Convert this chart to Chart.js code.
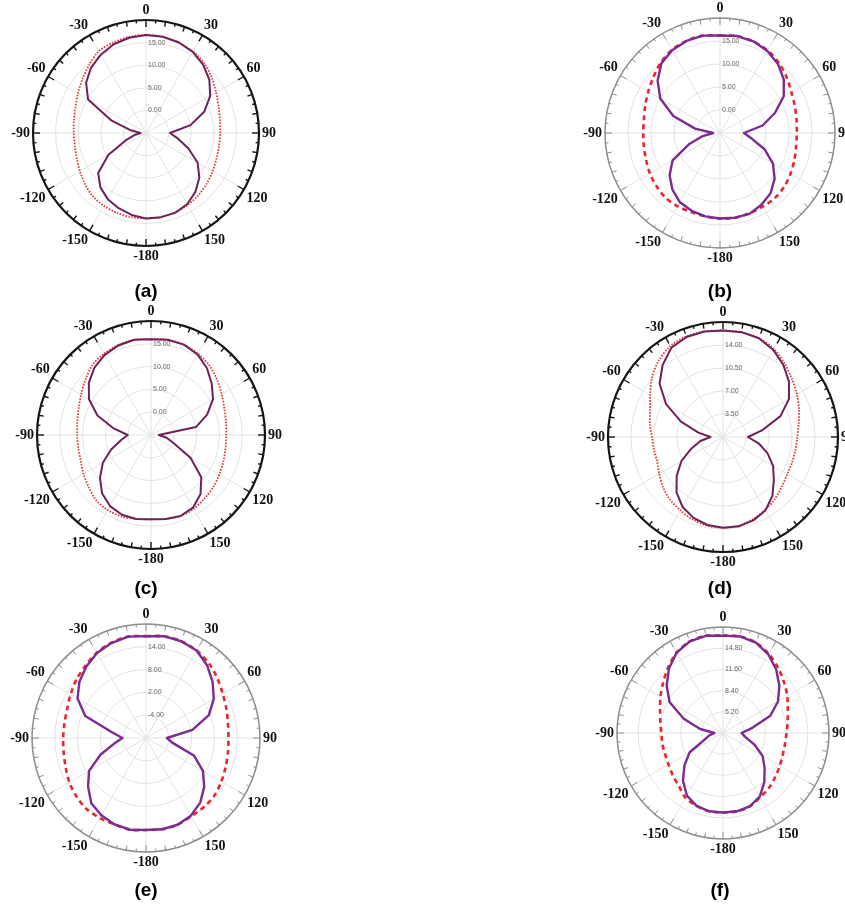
<!DOCTYPE html>
<html>
<head>
<meta charset="utf-8">
<script src="https://cdn.jsdelivr.net/npm/chart.js@4.4.1/dist/chart.umd.min.js"></script>
<style>
  html, body { margin: 0; padding: 0; background: #fff; }
  body { position: relative; width: 845px; height: 908px; overflow: hidden; }
  canvas { position: absolute; }
  .cap {
    position: absolute;
    font: bold 19px "Liberation Sans", Arial, sans-serif;
    color: #000;
    transform: translateX(-50%);
    white-space: nowrap;
  }
</style>
</head>
<body>
<script>
// Angle categories, clockwise from the top, 10 degree steps
const angleLabels = [0, 10, 20, 30, 40, 50, 60, 70, 80, 90, 100, 110, 120, 130, 140, 150, 160, 170,
  -180, -170, -160, -150, -140, -130, -120, -110, -100, -90, -80, -70, -60, -50, -40, -30, -20, -10];

// Gain patterns (dB), one value per angle above
const gainA_solid = [16.7, 16.6, 16.3, 15.7, 14.7, 13.3, 11.4, 8.7, 5.0, 0.3, 2.2, 5.0, 8.2, 10.4, 12.0, 13.2, 13.8, 13.9,
  13.9, 13.4, 12.7, 11.9, 10.7, 8.8, 4.6, -0.2, -2.4, -3.8, -1.6, 3.2, 9.8, 12.3, 13.9, 15.0, 15.9, 16.4];
const gainA_dotted = [16.7, 16.6, 16.3, 15.8, 15.1, 14.0, 12.9, 12.1, 11.6, 11.4, 11.4, 11.6, 12.0, 12.5, 13.0, 13.4, 13.7, 13.9,
  13.9, 13.9, 13.8, 13.6, 13.3, 12.6, 11.9, 11.3, 11.0, 11.0, 11.2, 11.6, 12.4, 13.4, 14.6, 15.9, 16.3, 16.6];

const gainB_solid = [16.2, 16.4, 16.2, 15.6, 14.6, 13.1, 11.0, 7.7, 4.4, 0.2, 2.0, 5.3, 8.3, 10.5, 12.1, 13.0, 13.7, 13.7,
  13.6, 13.4, 13.0, 12.4, 11.1, 9.3, 6.9, 2.2, -1.2, -3.5, 0.5, 5.8, 10.0, 12.7, 14.8, 15.8, 16.3, 16.5];
const gainB_dashed = [16.2, 16.4, 16.2, 15.7, 14.9, 13.9, 12.9, 12.3, 11.9, 11.7, 11.8, 12.2, 12.7, 13.2, 13.5, 13.5, 13.6, 13.7,
  13.6, 13.4, 13.3, 13.4, 13.4, 13.0, 12.6, 12.1, 11.8, 11.7, 11.8, 12.3, 13.0, 13.9, 15.0, 15.9, 16.3, 16.5];

const gainC_solid = [16.0, 16.2, 16.1, 15.4, 14.1, 12.4, 10.7, 8.1, 5.0, -3.3, -1.5, 0.3, 5.0, 9.4, 11.9, 13.4, 13.9, 13.7,
  13.5, 13.7, 13.6, 13.0, 11.7, 9.6, 7.2, 4.3, 1.7, 0.1, 3.3, 7.5, 10.7, 12.8, 14.3, 15.3, 15.9, 16.2];
const gainC_dotted = [16.0, 16.2, 16.1, 15.6, 14.9, 13.9, 12.9, 12.1, 11.7, 11.5, 11.6, 11.9, 12.3, 12.8, 13.2, 13.7, 13.9, 13.7,
  13.5, 13.7, 14.0, 14.0, 13.7, 12.8, 12.1, 11.4, 11.2, 11.2, 11.4, 11.9, 12.7, 13.8, 15.0, 15.6, 16.0, 16.2];

const gainD_solid = [16.2, 16.2, 16.0, 15.3, 14.3, 13.1, 11.6, 9.3, 6.1, 3.8, 5.5, 7.2, 8.8, 10.1, 11.7, 12.9, 13.5, 13.8,
  13.8, 13.6, 13.1, 12.3, 11.0, 9.2, 7.3, 5.1, 3.5, 1.9, 3.8, 6.8, 10.0, 12.6, 14.3, 15.7, 16.2, 16.3];
const gainD_dotted = [16.2, 16.2, 16.0, 15.5, 14.6, 13.7, 13.0, 12.3, 11.7, 11.3, 11.2, 11.2, 11.3, 11.7, 12.3, 12.8, 13.3, 13.7,
  13.8, 13.7, 13.4, 12.9, 12.5, 11.9, 11.2, 10.7, 10.7, 10.8, 11.3, 11.8, 12.8, 14.1, 15.2, 16.0, 16.3, 16.3];

const gainE_solid = [16.8, 17.2, 17.1, 16.6, 15.0, 12.9, 10.6, 7.6, 2.4, -4.5, -3.0, 3.4, 7.3, 10.0, 12.2, 13.6, 14.3, 14.4,
  14.2, 14.5, 14.2, 13.5, 12.4, 9.9, 7.3, 2.7, -1.5, -3.8, -0.8, 7.0, 10.8, 12.9, 14.5, 15.8, 16.6, 17.1];
const gainE_dashed = [16.8, 17.2, 17.1, 16.6, 15.7, 14.5, 13.3, 12.5, 11.9, 11.7, 11.9, 12.3, 12.9, 13.5, 13.7, 13.8, 14.3, 14.4,
  14.2, 14.5, 14.2, 14.3, 14.4, 13.9, 13.3, 12.5, 12.0, 11.8, 11.8, 12.1, 12.9, 13.9, 14.8, 15.9, 16.7, 17.1];

const gainF_solid = [16.7, 16.8, 16.5, 15.7, 14.5, 13.1, 11.6, 9.6, 6.5, 4.8, 5.4, 7.0, 8.9, 10.2, 11.7, 13.1, 13.8, 14.0,
  14.0, 14.0, 13.7, 12.9, 11.4, 9.6, 7.8, 5.0, 4.1, 3.3, 5.5, 8.3, 11.3, 13.1, 14.7, 16.0, 16.7, 16.9];
const gainF_dashed = [16.7, 16.8, 16.5, 15.8, 14.9, 14.0, 13.2, 12.4, 11.9, 11.6, 11.5, 11.6, 11.9, 12.3, 12.8, 13.2, 13.8, 14.0,
  14.0, 14.0, 13.7, 13.3, 12.4, 11.9, 11.5, 11.3, 11.3, 11.3, 11.6, 12.1, 12.9, 13.8, 14.9, 16.0, 16.7, 16.9];

// Radial axis range and ring step of each panel
const panelNames = ['(a)', '(b)', '(c)', '(d)', '(e)', '(f)'];
const scaleMin = [-5, -5, -5, 0, -10, 2];
const scaleMax = [20, 20, 20, 17.5, 20, 18];
const scaleStep = [5, 5, 5, 3.5, 6, 3.2];

const solidSeries = [gainA_solid, gainB_solid, gainC_solid, gainD_solid, gainE_solid, gainF_solid];
const brokenSeries = [gainA_dotted, gainB_dashed, gainC_dotted, gainD_dotted, gainE_dashed, gainF_dashed];

// Page placement of each polar plot
const panelX = [146, 720, 151, 723, 146, 723];
const panelY = [133, 133, 435, 437, 738, 733];
const panelR = [113, 115, 114, 115, 114, 106];
const captionY = [280, 280, 577, 577, 879, 879];
const captionX = [146, 720, 146, 720, 146, 720];
// heavy black frame (true) or light grey frame (false)
const heavyFrame = [true, false, true, true, false, false];

const CANVAS = 300;

// Outer frame with tick marks, angle labels and ring values
const polarFrame = {
  id: 'polarFrame',
  afterDraw(chart, args, opts) {
    const s = chart.scales.r;
    const ctx = chart.ctx;
    const n = chart.data.labels.length;
    const R = s.drawingArea;
    ctx.save();

    ctx.strokeStyle = opts.color;
    ctx.lineWidth = opts.width;
    ctx.beginPath();
    ctx.arc(s.xCenter, s.yCenter, R, 0, Math.PI * 2);
    ctx.stroke();

    ctx.lineWidth = opts.tickWidth;
    for (let k = 0; k < n * 2; k++) {
      const len = (k % 6 === 0) ? opts.major + 2 : (k % 2 === 0 ? opts.major : opts.minor);
      const a = s.getPointPosition(k / 2, R);
      const b = s.getPointPosition(k / 2, R - len);
      ctx.beginPath();
      ctx.moveTo(a.x, a.y);
      ctx.lineTo(b.x, b.y);
      ctx.stroke();
    }

    ctx.font = 'bold 14px "Liberation Serif", "Times New Roman", serif';
    ctx.fillStyle = '#111';
    for (let i = 0; i < n; i += 3) {
      const p = s.getPointPosition(i, R + 3);
      const dx = p.x - s.xCenter, dy = p.y - s.yCenter;
      ctx.textAlign = dx > 2 ? 'left' : (dx < -2 ? 'right' : 'center');
      ctx.textBaseline = dy < -2 ? 'bottom' : (dy > 2 ? 'top' : 'middle');
      ctx.fillText(String(chart.data.labels[i]), p.x, p.y);
    }

    ctx.font = '7px "Liberation Sans", Arial, sans-serif';
    ctx.fillStyle = '#666';
    ctx.textAlign = 'left';
    ctx.textBaseline = 'middle';
    s.ticks.slice(1, -1).forEach(t => {
      const r = s.getDistanceFromCenterForValue(t.value);
      ctx.fillText(t.value.toFixed(2), s.xCenter + 2, s.yCenter - r);
    });
    ctx.restore();
  }
};

panelNames.forEach((name, i) => {
  const cv = document.createElement('canvas');
  cv.width = CANVAS;
  cv.height = CANVAS;
  cv.style.width = CANVAS + 'px';
  cv.style.height = CANVAS + 'px';
  cv.style.left = (panelX[i] - CANVAS / 2) + 'px';
  cv.style.top = (panelY[i] - CANVAS / 2) + 'px';
  document.body.appendChild(cv);

  const cap = document.createElement('div');
  cap.className = 'cap';
  cap.textContent = name;
  cap.style.left = captionX[i] + 'px';
  cap.style.top = captionY[i] + 'px';
  document.body.appendChild(cap);

  const heavy = heavyFrame[i];
  const gridColor = '#e3e3e3';

  new Chart(cv.getContext('2d'), {
    type: 'radar',
    data: {
      labels: angleLabels,
      datasets: [
        {
          data: solidSeries[i],
          borderColor: heavy ? '#6c2359' : '#7b2b92',
          borderWidth: heavy ? 2 : 2.4,
          tension: 0,
          fill: false,
          pointRadius: 0,
          borderJoinStyle: 'round'
        },
        {
          data: brokenSeries[i],
          borderColor: heavy ? '#e43a40' : '#e8262c',
          borderWidth: heavy ? 1.8 : 2.6,
          borderDash: heavy ? [1.6, 1.4] : [5, 4],
          tension: 0.3,
          fill: false,
          pointRadius: 0
        }
      ]
    },
    options: {
      responsive: false,
      animation: false,
      devicePixelRatio: 1,
      layout: { padding: CANVAS / 2 - panelR[i] },
      plugins: {
        legend: { display: false },
        tooltip: { enabled: false },
        polarFrame: heavy
          ? { color: '#151515', width: 2.2, tickWidth: 1.4, major: 5, minor: 3 }
          : { color: '#8e8e8e', width: 1.5, tickWidth: 1, major: 5, minor: 3 }
      },
      scales: {
        r: {
          min: scaleMin[i],
          max: scaleMax[i],
          beginAtZero: false,
          ticks: { stepSize: scaleStep[i], display: false },
          pointLabels: { display: false },
          grid: { circular: true, color: gridColor, lineWidth: 1 },
          angleLines: {
            display: true,
            lineWidth: 1,
            color: (c) => (c.index % 3 === 0 ? gridColor : 'rgba(0,0,0,0)')
          }
        }
      }
    },
    plugins: [polarFrame]
  });
});
</script>
</body>
</html>
